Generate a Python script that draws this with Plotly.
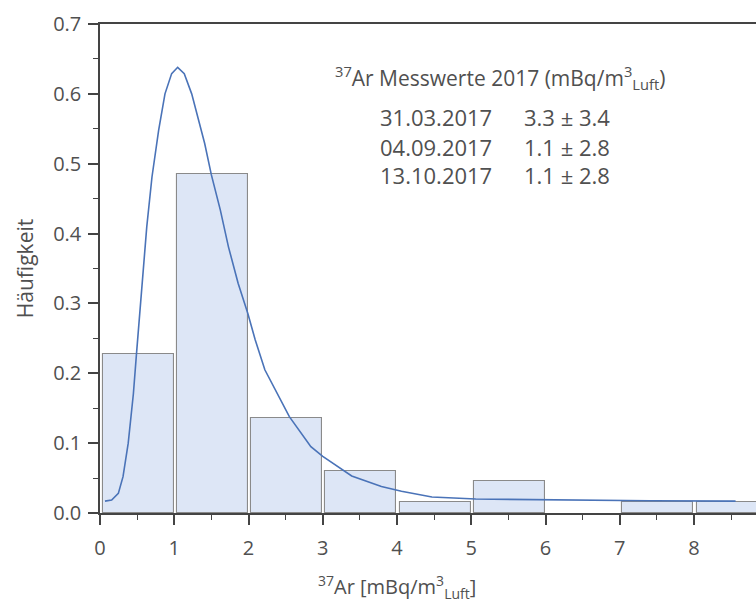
import plotly.graph_objects as go

# Histogram bins (left edges) and relative frequencies (bin 6-7 is empty)
bin_left = [0, 1, 2, 3, 4, 5, 6, 7, 8]
freq = [0.227, 0.485, 0.136, 0.0606, 0.0152, 0.0455, None, 0.0152, 0.0152]

# Fitted distribution curve
curve_x = [0.067, 0.157, 0.247, 0.31, 0.38, 0.45, 0.49, 0.56, 0.63, 0.70, 0.79, 0.875,
           0.965, 1.046, 1.135, 1.235, 1.32, 1.41, 1.50, 1.62, 1.73, 1.86, 1.99, 2.09,
           2.22, 2.55, 2.84, 3.0, 3.39, 3.79, 4.06, 4.47, 5.06, 6.05, 7.4, 8.56]
curve_y = [0.017, 0.0186, 0.028, 0.052, 0.10, 0.171, 0.226, 0.314, 0.41, 0.481, 0.548, 0.60,
           0.629, 0.638, 0.629, 0.60, 0.567, 0.529, 0.484, 0.434, 0.381, 0.329, 0.286, 0.248,
           0.205, 0.138, 0.095, 0.081, 0.053, 0.038, 0.031, 0.023, 0.020, 0.0186, 0.0176, 0.017]

# Measurement table
dates = ["31.03.2017", "04.09.2017", "13.10.2017"]
values = ["3.3 ± 3.4", "1.1 ± 2.8", "1.1 ± 2.8"]

FONT = "Open Sans"
GREY = "#505050"
AX = "#444444"

fig = go.Figure()
fig.add_trace(go.Bar(
    x=bin_left, y=freq, width=0.955, offset=0.035,
    marker=dict(color="#dde6f6", line=dict(color="#8a8a8a", width=1.1)),
    showlegend=False, hoverinfo="skip"))
fig.add_trace(go.Scatter(
    x=curve_x, y=curve_y, mode="lines",
    line=dict(color="#4a73b8", width=1.6),
    showlegend=False))

ann = []
ann.append(dict(x=3.14, y=0.624, xref="x", yref="y", xanchor="left", yanchor="middle",
                text="<sup>37</sup>Ar Messwerte 2017 (mBq/m<sup>3</sup><sub>Luft</sub>)",
                showarrow=False, font=dict(family=FONT, size=21, color=GREY)))
rows_y = [0.567, 0.524, 0.484]
for d, v, yy in zip(dates, values, rows_y):
    ann.append(dict(x=3.75, y=yy, xref="x", yref="y", xanchor="left", yanchor="middle",
                    text=d, showarrow=False, font=dict(family=FONT, size=22, color=GREY)))
    ann.append(dict(x=5.69, y=yy, xref="x", yref="y", xanchor="left", yanchor="middle",
                    text=v, showarrow=False, font=dict(family=FONT, size=22, color=GREY)))
# x-axis title
ann.append(dict(x=0.453, y=-0.151, xref="paper", yref="paper", xanchor="center", yanchor="middle",
                text="<sup>37</sup>Ar [mBq/m<sup>3</sup><sub>Luft</sub>]",
                showarrow=False, font=dict(family=FONT, size=20, color=GREY)))

fig.update_layout(
    width=756, height=605,
    margin=dict(l=100, r=0, t=24, b=92),
    plot_bgcolor="white", paper_bgcolor="white",
    bargap=0,
    font=dict(family=FONT, size=20, color=GREY),
    annotations=ann,
    xaxis=dict(
        range=[0, 8.835], showgrid=False, zeroline=False,
        showline=True, linecolor=AX, linewidth=1.5, mirror=True,
        ticks="outside", ticklen=10, tickwidth=1.5, tickcolor=AX,
        dtick=1, tick0=0, ticklabelstandoff=6,
        minor=dict(ticks="outside", ticklen=5, dtick=0.5, tickcolor=AX, tickwidth=1.2),
        tickfont=dict(family=FONT, size=20, color=GREY),
    ),
    yaxis=dict(
        range=[0, 0.7], showgrid=False, zeroline=False,
        showline=True, linecolor=AX, linewidth=1.5,
        ticks="outside", ticklen=10, tickwidth=1.5, tickcolor=AX,
        dtick=0.1, tick0=0, tickformat=".1f", ticklabelstandoff=3,
        minor=dict(ticks="outside", ticklen=5, dtick=0.05, tickcolor=AX, tickwidth=1.2),
        tickfont=dict(family=FONT, size=20, color=GREY),
        title=dict(text="Häufigkeit", font=dict(family=FONT, size=21, color=GREY), standoff=14),
    ),
)

fig.write_html("out.html")
